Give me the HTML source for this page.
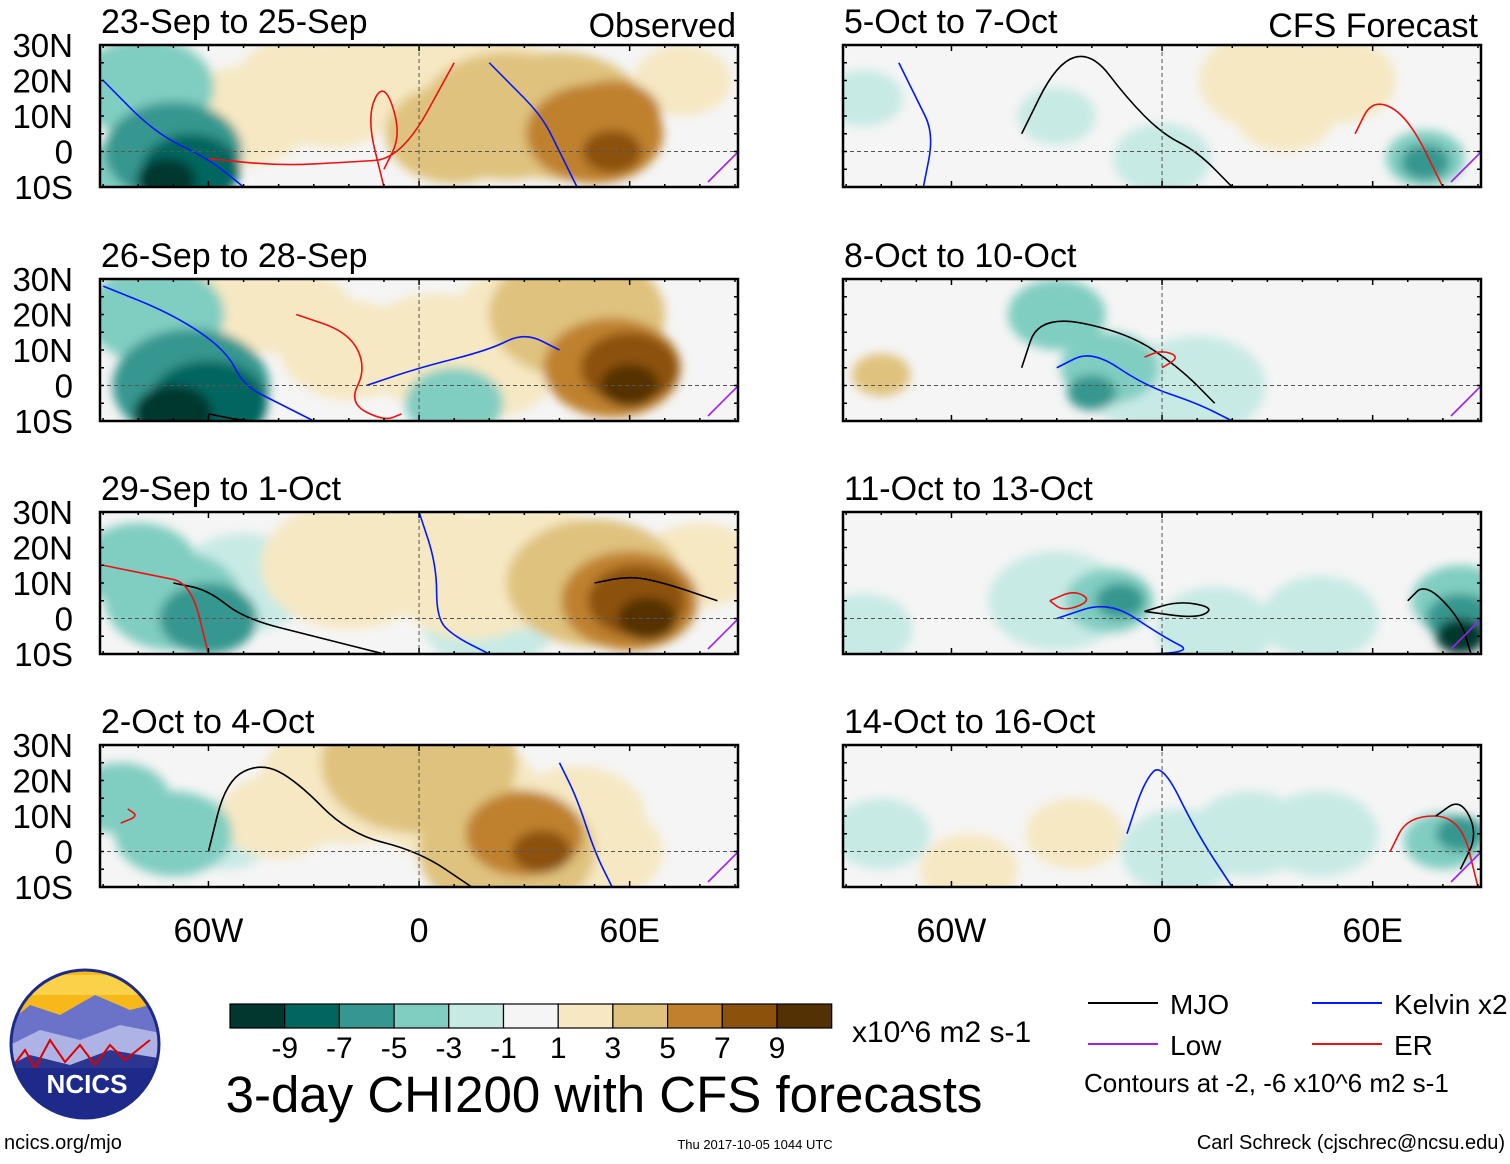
<!DOCTYPE html>
<html><head><meta charset="utf-8">
<style>
html,body{margin:0;padding:0;background:#fff;}
body{width:1510px;height:1159px;overflow:hidden;font-family:"Liberation Sans",sans-serif;}
svg text{font-family:"Liberation Sans",sans-serif;fill:#000;}
</style></head><body>
<svg id="chart" width="1510" height="1159" viewBox="0 0 1510 1159" xmlns="http://www.w3.org/2000/svg">
<defs>
<filter id="blur" x="-50%" y="-50%" width="200%" height="200%"><feGaussianBlur stdDeviation="5"/></filter>
</defs>
<g id="panels"></g>
<g id="legend"></g>
</svg>
<script>
const NS="http://www.w3.org/2000/svg";
const panelsG=document.getElementById('panels');
const legendG=document.getElementById('legend');

// colorbar data
const levels=[-9,-7,-5,-3,-1,1,3,5,7,9];
const colors=["#01372f","#00665e","#35978f","#80cdc1","#c7eae5","#f5f5f5","#f6e8c3","#dfc27d","#bf812d","#8c510a","#543005"];
// panel titles
const titles=["23-Sep to 25-Sep","26-Sep to 28-Sep","29-Sep to 1-Oct","2-Oct to 4-Oct","5-Oct to 7-Oct","8-Oct to 10-Oct","11-Oct to 13-Oct","14-Oct to 16-Oct"];
const latTicks=["30N","20N","10N","0","10S"];
const latVals=[30,20,10,0,-10];
const lonTicks=["60W","0","60E"];
const lonVals=[-60,0,60];
// anomaly blobs per panel: lon, lat, value
const blobLon=[
 [-78,-70,-65,-72,-50,-35,-25,-5,10,25,40,50,55,55,20,75,-85],
 [-75,-65,-60,-70,-50,-35,-20,5,20,45,55,60,60,30,10],
 [-80,-70,-60,-50,-20,0,15,30,50,60,62,65,20,80],
 [-85,-70,-55,-20,0,10,25,30,35,45,50,-40],
 [-85,-30,0,30,50,75,75,35],
 [-80,-30,-15,-20,-5,10],
 [-85,-30,-15,-12,15,45,85,85,85],
 [-80,-55,5,25,45,80,85,-25]
];
const blobLat=[
 [18,0,-5,-8,10,20,15,25,5,10,10,5,10,0,20,20,-5],
 [20,0,-5,-8,25,20,10,10,5,20,5,5,0,20,-5],
 [15,5,0,10,15,20,10,15,10,5,5,0,0,15],
 [15,5,5,20,25,15,0,5,0,10,0,10],
 [15,10,-2,20,20,-2,-3,10],
 [3,20,5,-2,0,0],
 [-3,5,5,5,-3,0,5,0,-5],
 [5,-5,0,5,5,3,5,5,20]
];
const blobVal=[
 [-3,-5,-7,-9,2,3,3,3,5,5,5,7,7,9,3,2,-3],
 [-3,-5,-7,-9,2,2,3,3,3,5,7,9,11,3,-3],
 [-3,-3,-5,-1,2,3,3,3,5,7,9,11,-1,2],
 [-3,-3,-1,3,5,3,5,7,9,3,3,2],
 [-2,-1,-2,2,2,-3,-6,2],
 [5,-3,-3,-6,-2,-2],
 [-2,-2,-4,-6,-2,-2,-3,-6,-9],
 [-2,2,-2,-2,-2,-3,-5,2]
];
const blobR=[
 [14,14,10,6,14,12,14,16,14,18,18,14,10,6,14,10,8],
 [14,16,12,8,16,12,14,16,14,18,14,10,6,14,10],
 [12,14,10,14,18,14,16,18,18,14,10,6,14,12],
 [10,12,10,18,20,18,18,12,6,14,14,12],
 [8,8,10,14,12,8,5,10],
 [6,10,10,5,12,14],
 [10,14,9,5,12,12,10,7,5],
 [10,10,12,12,12,8,5,10]
];
// contour lines per panel (lon/lat vertices), type
const lineType=[["ER","Kelvin","ER","Kelvin"],["Kelvin","ER","MJO","Kelvin"],["MJO","ER","Kelvin","MJO"],["MJO","Kelvin","ER"],["MJO","Kelvin","ER"],["MJO","Kelvin","ER"],["ER","MJO","Kelvin","MJO"],["Kelvin","ER","MJO"]];
const lineLon=[
 [[-60,-40,-20,-5,10],[-90,-75,-60,-50],[-10,-5,-10,-15,-10],[20,25,35,40,45]],
 [[-90,-70,-55,-50,-40,-30],[-35,-20,-15,-20,-10,-5],[-60,-50,-40],[-15,0,20,30,40]],
 [[-70,-60,-50,-30,-10],[-90,-75,-65,-60],[0,5,5,10,20],[50,60,70,85]],
 [[-60,-55,-45,-35,-20,0,15],[40,45,50,55],[-85,-80,-83]],
 [[-40,-30,-20,-10,0,10,20],[-75,-70,-65,-68],[55,60,70,80]],
 [[-40,-35,-10,5,15],[-30,-20,-5,10,20],[-5,0,5,0]],
 [[-32,-25,-20,-28,-32],[-5,5,15,10,-5],[-30,-15,0,10,-25],[70,75,85,88]],
 [[-10,-5,0,10,20],[65,70,85,90],[78,85,90,85]]
];
const lineLat=[
 [[-2,-4,-3,-2,25],[20,5,-2,-10],[-5,5,20,10,-10],[25,20,10,0,-10]],
 [[28,20,10,0,-5,-10],[20,15,5,-5,-10,-8],[-8,-10,-10],[0,5,10,15,10]],
 [[10,8,0,-5,-10],[15,12,10,-10],[30,15,0,-5,-10],[10,12,10,5]],
 [[0,20,25,20,5,0,-10],[25,15,0,-10],[8,10,12]],
 [[5,25,28,15,5,0,-10],[25,15,5,-10],[5,15,10,-10]],
 [[5,20,15,5,-5],[5,10,0,-5,-10],[8,10,8,5]],
 [[5,8,5,2,5],[2,5,3,0,2],[0,5,-5,-10,-10],[5,10,0,-10]],
 [[5,20,25,5,-10],[0,10,10,-10],[10,15,5,-5]]
];
const lineColors={MJO:"#000000",Kelvin:"#0018ff",ER:"#ee1111",Low:"#a020f0"};

const PL=[100,843], PW=638, PT=[45,279,512,745], PH=142;
function xOf(p,lon){return PL[p]+(lon+90.9)*3.51;}
function yOf(t,lat){return PT[t]+(30-lat)*3.55;}
function colorOf(v){let i=0;while(i<levels.length&&v>levels[i])i++;return colors[i];}
function mk(tag,attrs,parent){const e=document.createElementNS(NS,tag);for(const k in attrs)e.setAttribute(k,attrs[k]);parent.appendChild(e);return e;}

for(let k=0;k<8;k++){
  const col=k<4?0:1, row=k%4;
  const g=mk('g',{},panelsG);
  
  
  const cid='clip'+k;
  const cp=mk('clipPath',{id:cid},g);
  mk('rect',{x:PL[col],y:PT[row],width:PW,height:PH},cp);
  const inner=mk('g',{'clip-path':'url(#'+cid+')'},g);
  mk('rect',{x:PL[col],y:PT[row],width:PW,height:PH,fill:'#f5f5f5'},inner);
  const fg=mk('g',{filter:'url(#blur)'},inner);
  const idx=blobVal[k].map((v,i)=>i).sort((a,b)=>Math.abs(blobVal[k][a])-Math.abs(blobVal[k][b]));
  for(const i of idx){
    const v=blobVal[k][i];
    const e=mk('ellipse',{cx:xOf(col,blobLon[k][i]),cy:yOf(row,blobLat[k][i]),rx:blobR[k][i]*3.5*1.4,ry:blobR[k][i]*3.55,fill:colorOf(v)},fg);
    
    
  }
  for(let j=0;j<lineLon[k].length;j++){
    const pts=lineLon[k][j].map((lo,i)=>[xOf(col,lo),yOf(row,lineLat[k][j][i])]);
    let d='M'+pts[0][0]+','+pts[0][1];
    for(let i=1;i<pts.length;i++){const mx=(pts[i-1][0]+pts[i][0])/2,my=(pts[i-1][1]+pts[i][1])/2;d+=' Q'+pts[i-1][0]+','+pts[i-1][1]+' '+mx+','+my;}
    d+=' L'+pts[pts.length-1][0]+','+pts[pts.length-1][1];
    const p=mk('path',{d:d,fill:'none',stroke:lineColors[lineType[k][j]],'stroke-width':1.6},inner);
    
    
  }
  const lp=mk('path',{d:'M'+(PL[col]+PW-30)+','+(PT[row]+PH-5)+' Q'+(PL[col]+PW-10)+','+(PT[row]+PH-25)+' '+(PL[col]+PW)+','+(PT[row]+PH-35),fill:'none',stroke:lineColors.Low,'stroke-width':1.6},inner);
  
  
  mk('line',{x1:PL[col],x2:PL[col]+PW,y1:yOf(row,0),y2:yOf(row,0),stroke:'#555','stroke-dasharray':'4,3','stroke-width':1},inner);
  mk('line',{x1:xOf(col,0),x2:xOf(col,0),y1:PT[row],y2:PT[row]+PH,stroke:'#555','stroke-dasharray':'4,3','stroke-width':1},inner);
  const fr=mk('rect',{x:PL[col],y:PT[row],width:PW,height:PH,fill:'none',stroke:'#000','stroke-width':2.5},g);
  
  
  for(let lo=-90;lo<=90;lo+=10){const x=xOf(col,lo);if(x<PL[col]||x>PL[col]+PW)continue;
    const big=lo%60===0;
    mk('line',{x1:x,x2:x,y1:PT[row],y2:PT[row]+(big?6:3),stroke:'#000','stroke-width':1.5},g);
    mk('line',{x1:x,x2:x,y1:PT[row]+PH,y2:PT[row]+PH-(big?6:3),stroke:'#000','stroke-width':1.5},g);}
  for(let la=-10;la<=30;la+=5){const y=yOf(row,la);
    mk('line',{x1:PL[col],x2:PL[col]+4,y1:y,y2:y,stroke:'#000','stroke-width':1.5},g);
    mk('line',{x1:PL[col]+PW,x2:PL[col]+PW-4,y1:y,y2:y,stroke:'#000','stroke-width':1.5},g);}
  const t=mk('text',{x:PL[col]+1,y:PT[row]-12,'font-size':34},g);t.textContent=titles[k];
  
  
  if(col===0){
    latTicks.forEach((s,i)=>{const tt=mk('text',{x:73,y:yOf(row,latVals[i])+12,'font-size':33,'text-anchor':'end'},g);tt.textContent=s;
      
      });
  }
}
function txt(x,y,s,size,anchor,name,parent){const t=mk('text',{x:x,y:y,'font-size':size,'text-anchor':anchor||'start'},parent||legendG);t.textContent=s;
  
  return t;}
txt(736,37,"Observed",34,'end','observed-label');
txt(1478,37,"CFS Forecast",34,'end','cfs-forecast-label');
for(let c=0;c<2;c++)lonVals.forEach((lv,i)=>txt(xOf(c,lv),942,lonTicks[i],34,'middle','lon-tick-label'));
const cbX=230,cbW=54.7;
colors.forEach((c,i)=>{const r=mk('rect',{x:cbX+i*cbW,y:1004,width:cbW,height:24,fill:c,stroke:'#000','stroke-width':1.2},legendG);
  
  });
levels.forEach((lv,i)=>txt(cbX+(i+1)*cbW,1058,String(lv),30,'middle','colorbar-label'));
txt(852,1042,"x10^6 m2 s-1",30,'start','units-label');
txt(604,1112,"3-day CHI200 with CFS forecasts",51,'middle','main-title');
const lg=[["MJO",1088,1003,"#000"],["Kelvin x2",1312,1003,"#0018ff"],["Low",1088,1044,"#a020f0"],["ER",1312,1044,"#ee1111"]];
lg.forEach(l=>{mk('line',{x1:l[1],x2:l[1]+70,y1:l[2],y2:l[2],stroke:l[3],'stroke-width':2},legendG);txt(l[1]+82,l[2]+11,l[0],28,'start','legend-entry');});
txt(1084,1092,"Contours at -2, -6 x10^6 m2 s-1",26,'start','contour-note');
txt(4,1149,"ncics.org/mjo",20,'start','site-url');
txt(755,1149,"Thu 2017-10-05 1044 UTC",13,'middle','timestamp');
txt(1505,1149,"Carl Schreck (cjschrec@ncsu.edu)",20,'end','author');
const lo=mk('g',{},legendG);


const lcp=mk('clipPath',{id:'lclip'},lo);
mk('circle',{cx:85,cy:1044,r:74},lcp);
const li=mk('g',{'clip-path':'url(#lclip)'},lo);
mk('rect',{x:0,y:960,width:170,height:60,fill:'#f7b81a'},li);
mk('rect',{x:0,y:975,width:170,height:20,fill:'#f9d24a'},li);
mk('path',{d:'M0,1030 L30,1005 L60,1015 L95,995 L130,1010 L170,1000 L170,1120 L0,1120Z',fill:'#6b73c9'},li);
mk('path',{d:'M0,1050 L40,1030 L80,1040 L120,1025 L170,1035 L170,1120 L0,1120Z',fill:'#aeb3e6'},li);
mk('path',{d:'M0,1070 L30,1055 L70,1065 L110,1050 L170,1060 L170,1120 L0,1120Z',fill:'#2c3590'},li);
mk('path',{d:'M10,1070 L25,1050 L35,1068 L50,1040 L65,1062 L80,1045 L95,1065 L110,1045 L125,1060 L150,1040',fill:'none',stroke:'#d00','stroke-width':2},li);
mk('rect',{x:0,y:1068,width:170,height:60,fill:'#1d2a8a'},li);
mk('circle',{cx:85,cy:1044,r:74,fill:'none',stroke:'#1d2a8a','stroke-width':3},lo);
const lt=txt(87,1093,"NCICS",26,'middle','logo-text',lo);lt.setAttribute('font-weight','bold');lt.style.fill='#fff';
</script>
</body></html>
